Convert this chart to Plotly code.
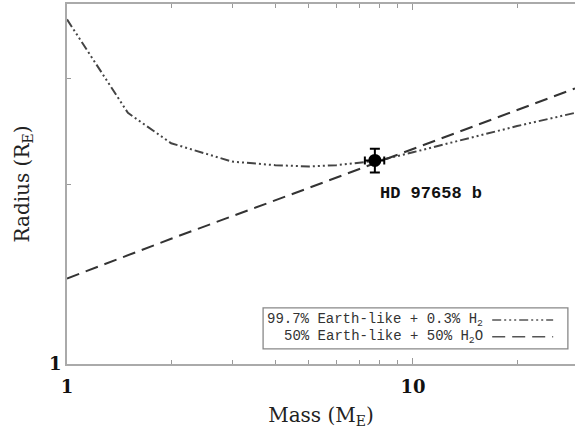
import plotly.graph_objects as go
import math

# --- data ---
mass_h2 = [1, 1.5, 2, 3, 4, 5, 6, 8, 10, 15, 20, 29.4]
radius_h2 = [3.77, 2.63, 2.34, 2.18, 2.15, 2.14, 2.15, 2.19, 2.26, 2.40, 2.50, 2.63]

mass_h2o = [1, 2, 5, 10, 20, 29.4]
radius_h2o = [1.39, 1.62, 1.97, 2.29, 2.66, 2.89]

planet_name = "HD 97658 b"
planet_mass = [7.76]
planet_mass_err = [0.5]
planet_radius = [2.19]
planet_radius_err = [0.1]

x_major = [1, 10]
x_major_text = ["1", "10"]
x_minor = [2, 3, 4, 5, 6, 7, 8, 9, 20]
y_major = [1]
y_major_text = ["1"]
y_minor = [2, 3]

legend_labels = ["99.7% Earth-like + 0.3% H<sub>2</sub>", "50% Earth-like + 50% H<sub>2</sub>O"]

H2_DASH = "9px,3px,2px,3px,2px,3px,2px,3px"
H2O_DASH = "13px,7px"

fig = go.Figure()
fig.add_trace(go.Scatter(x=mass_h2, y=radius_h2, mode="lines",
                         line=dict(color="#444", width=2, dash=H2_DASH),
                         showlegend=False))
fig.add_trace(go.Scatter(x=mass_h2o, y=radius_h2o, mode="lines",
                         line=dict(color="#333", width=2, dash=H2O_DASH),
                         showlegend=False))
fig.add_trace(go.Scatter(x=planet_mass, y=planet_radius, mode="markers",
                         marker=dict(color="black", size=13),
                         error_x=dict(type="data", array=planet_mass_err, color="black", thickness=2, width=4),
                         error_y=dict(type="data", array=planet_radius_err, color="black", thickness=2, width=5),
                         showlegend=False))

fig.add_annotation(x=math.log10(planet_mass[0]), y=math.log10(planet_radius[0]), xref="x", yref="y",
                   text="<b>" + planet_name + "</b>", showarrow=False,
                   xanchor="left", yanchor="middle", xshift=3, yshift=-33,
                   font=dict(family="Liberation Mono", size=17, color="#111"))

# custom legend box (text left, sample right)
fig.add_shape(type="rect", xref="paper", yref="paper", x0=0.386, x1=0.986, y0=0.042, y1=0.156,
              line=dict(color="#888", width=1.3), fillcolor="white")
ys = [0.122, 0.076]
dashes = [H2_DASH, H2O_DASH]
for lab, yy, d in zip(legend_labels, ys, dashes):
    fig.add_annotation(x=0.822, y=yy, xref="paper", yref="paper", text=lab, showarrow=False,
                       xanchor="right", yanchor="middle",
                       font=dict(family="Liberation Mono", size=14, color="#333"))
    fig.add_shape(type="line", xref="paper", yref="paper", x0=0.837, x1=0.957, y0=yy, y1=yy,
                  line=dict(color="#555", width=1.5, dash=d))

fig.update_xaxes(type="log", range=[0, math.log10(29.4)], automargin=False,
                 tickvals=x_major, ticktext=x_major_text, ticklabelstandoff=6,
                 ticks="inside", ticklen=6, tickcolor="#999", tickwidth=1,
                 minor=dict(tickvals=x_minor, ticks="inside", ticklen=4, tickcolor="#999", tickwidth=1, showgrid=False),
                 showline=True, linecolor="#aaa", linewidth=1.5, mirror="ticks",
                 showgrid=False, zeroline=False,
                 tickfont=dict(family="DejaVu Serif", size=18, color="#111", weight="bold"),
                 title=dict(text="Mass (M<sub>E</sub>)", standoff=12,
                            font=dict(family="DejaVu Serif", size=20, color="#222")))
fig.update_yaxes(type="log", range=[0, math.log10(4)], automargin=False,
                 tickvals=y_major, ticktext=y_major_text,
                 ticks="inside", ticklen=6, tickcolor="#999", tickwidth=1,
                 minor=dict(tickvals=y_minor, ticks="inside", ticklen=4, tickcolor="#999", tickwidth=1, showgrid=False),
                 showline=True, linecolor="#aaa", linewidth=1.5, mirror=False,
                 showgrid=False, zeroline=False,
                 tickfont=dict(family="DejaVu Serif", size=18, color="#111", weight="bold"),
                 title=dict(text="Radius (R<sub>E</sub>)", standoff=14,
                            font=dict(family="DejaVu Serif", size=20, color="#222")))

fig.update_layout(width=575, height=429, margin=dict(l=67, r=0, t=4, b=65),
                  plot_bgcolor="white", paper_bgcolor="white", showlegend=False)

fig.write_html("out.html", config={"displayModeBar": False},
               post_script="document.body.style.margin='0';document.body.style.overflow='hidden';")
